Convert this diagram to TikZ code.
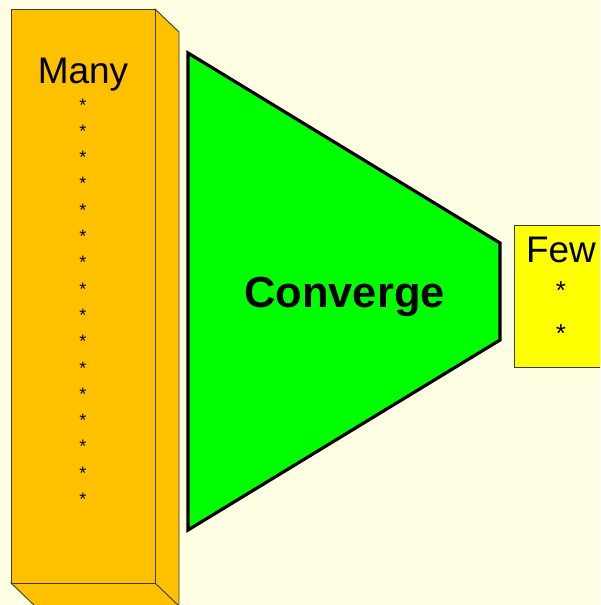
\documentclass[tikz,border=0pt]{standalone}
\usepackage{fontspec}
\setmainfont{Liberation Sans}
\usepackage{xcolor}
\definecolor{paper}{RGB}{255,255,228}
\definecolor{manyorange}{RGB}{255,192,0}
\definecolor{convgreen}{RGB}{0,255,0}
\definecolor{fewyellow}{RGB}{255,255,0}
\definecolor{edgegray}{RGB}{60,60,40}
\tikzset{
    face/.style={fill=#1, draw=edgegray, line width=0.9pt, line join=miter},
    star/.style={font=\fontsize{#1}{#1}\selectfont, inner sep=0pt, anchor=base},
    lbl/.style={font=\fontsize{37}{37}\selectfont, inner sep=0pt, anchor=base},
}

\begin{document}
\begin{tikzpicture}[x=1pt, y=-1pt,
    funnel/.style={fill=convgreen, draw=black, line width=3.2pt, line join=miter},
]
    \useasboundingbox (0,0) rectangle (600,605);
    \clip (0,0) rectangle (600,605);
    \fill[paper] (0,0) rectangle (600,605);

    % many: box with depth
    \draw[face=manyorange] (155,9) -- (179,32) -- (179,640) -- (155,583) -- cycle;
    \draw[face=manyorange] (11,583) -- (155,583) -- (179,606) -- (179,640) -- (35,640) -- (35,606) -- cycle;
    \draw[face=manyorange] (11,9) rectangle (155,583);
    \node[lbl] (many) at (83,83) {Many};
    \foreach \i in {0,...,15}
        \node[star=18] (m\i) at (83,{111+26.3*\i}) {*};

    % converge
    \draw[funnel] (188,53) -- (500,243) -- (500,340) -- (188,530) -- cycle;
    \node[font=\fontsize{43.5}{43.5}\selectfont\bfseries, inner sep=0pt, anchor=base]
        (conv) at (344.5,307) {Converge};

    % few
    \draw[face=fewyellow] (514,225) rectangle (640,367);
    \node[lbl] (few) at (561,262) {Few};
    \node[star=26] (f1) at (561,299.5) {*};
    \node[star=26] (f2) at (561,342.5) {*};
\end{tikzpicture}
\end{document}
